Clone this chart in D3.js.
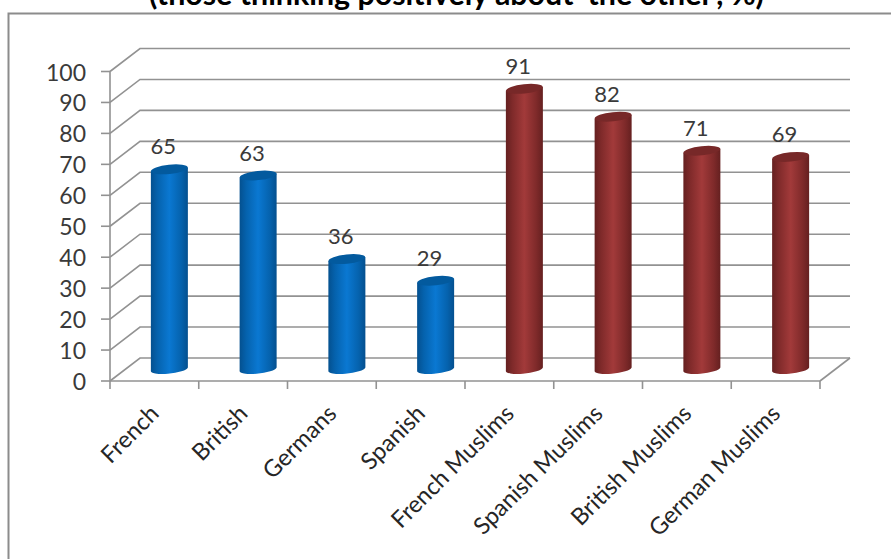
<!DOCTYPE html>
<html><head><meta charset="utf-8">
<script src="https://cdn.jsdelivr.net/npm/d3@7/dist/d3.min.js"></script>
<style>html,body{margin:0;background:#fff}svg{display:block}text{font-family:Lato,"Open Sans",sans-serif}</style>
</head><body><div id="c"></div>
<script>
const categories=["French","British","Germans","Spanish","French Muslims","Spanish Muslims","British Muslims","German Muslims"];
const values=[65,63,36,29,91,82,71,69];
const groups=["blue","blue","blue","blue","red","red","red","red"];
const yTicks=[0,10,20,30,40,50,60,70,80,90,100];
const titleText="(those thinking positively about \u2018the other\u2019, %)";

const W=891,H=559;
const svg=d3.select("#c").append("svg").attr("width",W).attr("height",H);
const defs=svg.append("defs");
const grid="#929292";
const x=d3.scaleBand().domain(categories).range([110,820]).padding(0);
const y=d3.scaleLinear().domain([0,100]).range([381,71.5]);
const dx=30,dy=-23; // depth of the 3D box

function grad(id,stops){
  const g=defs.append("linearGradient").attr("id",id);
  stops.forEach(([o,c])=>g.append("stop").attr("offset",o).attr("stop-color",c));
}
grad("blueBody",[[0,"#04508f"],[.18,"#0562ad"],[.5,"#0a78d2"],[.82,"#0562ad"],[1,"#04508f"]]);
grad("redBody",[[0,"#652020"],[.18,"#7f2a2a"],[.5,"#a23a3a"],[.82,"#7f2a2a"],[1,"#652020"]]);
const topFill={blue:"#035a9e",red:"#772828"};
const bodyId={blue:"url(#blueBody)",red:"url(#redBody)"};

// frame
svg.append("path").attr("d",`M8.5,${H}V13.5H${W}`).attr("fill","none").attr("stroke","#8c8c8c").attr("stroke-width",2);

// title, cropped by the top of the picture as in the reference
svg.append("text").attr("x",456.5).attr("y",5).attr("text-anchor","middle")
  .attr("font-size",30.4).attr("font-weight",700).attr("fill","#000").text(titleText);

// back wall gridlines and side wall diagonals
const g=svg.append("g").attr("fill","none").attr("stroke",grid).attr("stroke-width",1.6);
yTicks.forEach(t=>{
  g.append("path").attr("d",`M${x.range()[0]},${y(t)}l${dx},${dy}H${x.range()[1]+dx}`);
});
// floor right edge
g.append("path").attr("d",`M${x.range()[1]},${y(0)}l${dx},${dy}`);
// axes
g.append("path").attr("d",`M110,${y(100)}V${y(0)}H820`);
yTicks.forEach(t=>g.append("path").attr("d",`M101,${y(t)}H110`));
const xt=[...categories.map(c=>x(c)),x.range()[1]];
xt.forEach(v=>g.append("path").attr("d",`M${v},${y(0)}v8`));

// y labels
svg.append("g").selectAll("text").data(yTicks).join("text")
  .attr("x",86).attr("y",t=>y(t)+9).attr("text-anchor","end")
  .attr("font-size",23).attr("fill","#3a3a3a").text(d=>d);

// bars
const rx=18.5,ry=4.6,rot=-6;
const bars=svg.append("g").selectAll("g").data(categories).join("g");
bars.each(function(c,i){
  const sel=d3.select(this);
  const cx=x(c)+x.bandwidth()/2+dx/2;
  const yb=y(0)+dy/2, yt=y(values[i])+dy/2+1;
  const tilt=rx*Math.tan(-rot*Math.PI/180);
  sel.append("path")
    .attr("d",`M${cx-rx},${yt+tilt}L${cx-rx},${yb+tilt/2}A${rx},${ry} ${rot} 0 0 ${cx+rx},${yb-tilt}L${cx+rx},${yt-tilt}Z`)
    .attr("fill",bodyId[groups[i]]);
  sel.append("ellipse").attr("cx",cx).attr("cy",yt).attr("rx",rx).attr("ry",ry)
    .attr("transform",`rotate(${rot} ${cx} ${yt})`).attr("fill",topFill[groups[i]]);
  sel.append("text").attr("x",cx-6).attr("y",yt-15).attr("text-anchor","middle")
    .attr("font-size",22).attr("fill","#3a3a3a").text(values[i]);
});

// x labels
svg.append("g").selectAll("text").data(categories).join("text")
  .attr("text-anchor","end").attr("font-size",23.5).attr("fill","#262626")
  .attr("transform",c=>`translate(${x(c)+x.bandwidth()/2+6},${y(0)+34}) rotate(-45)`)
  .text(d=>d);
</script></body></html>
